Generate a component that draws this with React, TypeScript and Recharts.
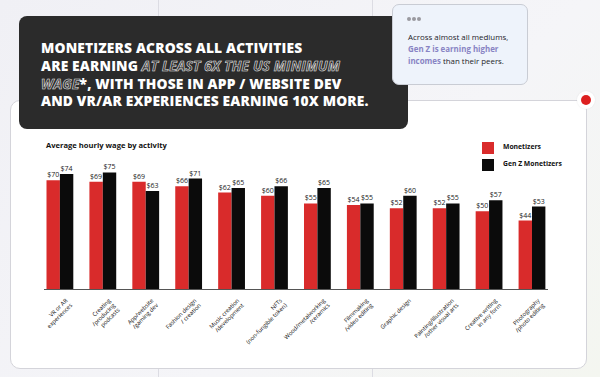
import { BarChart, Bar, XAxis, YAxis, LabelList } from 'recharts';

const CATEGORIES = [
  'VR or AR\nexperiences',
  'Creating\n/producing\npodcasts',
  'App/website\n/gaming dev',
  'Fashion design\n/ creation',
  'Music creation\n/development',
  'NFTs\n(non-fungible token)',
  'Wood/metalworking\n/ceramics',
  'Filmmaking\n/video editing',
  'Graphic design',
  'Painting/illustration\n/other visual arts',
  'Creative writing\nin any form',
  'Photography\n/photo editing',
];
const MONETIZERS = [70, 69, 69, 66, 62, 60, 55, 54, 52, 52, 50, 44];
const GEN_Z = [74, 75, 63, 71, 65, 66, 65, 55, 60, 55, 57, 53];

const RED = '#d92b2b';
const BLACK = '#0b0b0b';

const data = CATEGORIES.map((name, i) => ({
  name,
  monetizers: MONETIZERS[i],
  genz: GEN_Z[i],
}));

function Tick(props: { x?: number; y?: number; payload?: { value: string } }) {
  const { x = 0, y = 0, payload } = props;
  const lines = (payload?.value || '').split('\n');
  return (
    <g transform={`translate(${x + 8},${y + 4}) rotate(-45)`}>
      {lines.map((l, i) => (
        <text
          key={i}
          x={0}
          y={i * 6.6}
          textAnchor="end"
          fontSize={5.8}
          fill="#111"
          fontFamily="Open Sans, sans-serif"
        >
          {l}
        </text>
      ))}
    </g>
  );
}

const outline: React.CSSProperties = {
  color: 'transparent',
  WebkitTextStroke: '0.6px #e6e6e6',
  fontStyle: 'italic',
  fontWeight: 700,
};

export default function App() {
  return (
    <div
      style={{
        position: 'absolute',
        left: 0,
        top: 0,
        width: 600,
        height: 377,
        overflow: 'hidden',
        background: 'linear-gradient(135deg, #f0f0f5 0%, #f5f5f8 60%, #f4f6f0 100%)',
        fontFamily: 'Open Sans, sans-serif',
      }}
    >
      {/* faint page grid */}
      <div style={{ position: 'absolute', left: 158, top: 0, width: 1, height: 377, background: '#dcdce3' }} />
      <div style={{ position: 'absolute', left: 372, top: 0, width: 1, height: 377, background: '#dcdce3' }} />

      {/* card */}
      <div
        style={{
          position: 'absolute',
          left: 10,
          top: 100,
          width: 575,
          height: 267,
          background: '#fff',
          border: '1px solid #d4d4da',
          borderRadius: 10,
        }}
      />

      <div style={{ position: 'absolute', left: 46, top: 140, fontSize: 7.6, fontWeight: 700, color: '#111' }}>
        Average hourly wage by activity
      </div>

      {/* legend */}
      <div style={{ position: 'absolute', left: 482, top: 142, width: 12, height: 12, background: RED }} />
      <div style={{ position: 'absolute', left: 482, top: 159, width: 12, height: 12, background: BLACK }} />
      <div style={{ position: 'absolute', left: 503, top: 142, fontSize: 6.8, fontWeight: 700, color: '#111', lineHeight: '10px' }}>
        Monetizers
      </div>
      <div style={{ position: 'absolute', left: 503, top: 159, fontSize: 6.8, fontWeight: 700, color: '#111', lineHeight: '10px' }}>
        Gen Z Monetizers
      </div>

      <div style={{ position: 'absolute', left: 0, top: 0 }}>
        <BarChart
          width={600}
          height={377}
          data={data}
          margin={{ top: 164.6, right: 46.5, bottom: 0, left: 38.5 }}
          barGap={0}
          barSize={13.4}
        >
          <XAxis dataKey="name" interval={0} tickLine={false} axisLine={false} height={88} tick={<Tick />} />
          <YAxis hide domain={[0, 80]} />
          <Bar dataKey="monetizers" fill={RED} isAnimationActive={false}>
            <LabelList
              dataKey="monetizers"
              position="top"
              offset={3}
              formatter={(v: number) => `$${v}`}
              style={{ fontSize: 7, fill: '#222', fontFamily: 'Open Sans, sans-serif' }}
            />
          </Bar>
          <Bar dataKey="genz" fill={BLACK} isAnimationActive={false}>
            <LabelList
              dataKey="genz"
              position="top"
              offset={3}
              formatter={(v: number) => `$${v}`}
              style={{ fontSize: 7, fill: '#222', fontFamily: 'Open Sans, sans-serif' }}
            />
          </Bar>
        </BarChart>
      </div>

      {/* baseline */}
      <div style={{ position: 'absolute', left: 44, top: 289, width: 504, height: 1, background: '#555' }} />

      {/* headline box */}
      <div
        style={{
          position: 'absolute',
          left: 19,
          top: 16,
          width: 389,
          height: 113,
          background: '#2b2b2b',
          borderRadius: 8,
        }}
      />
      <div
        style={{
          position: 'absolute',
          left: 41,
          top: 39,
          width: 366,
          fontSize: 13.8,
          lineHeight: '17.8px',
          fontWeight: 800,
          color: '#fff',
          letterSpacing: 0.15,
        }}
      >
        MONETIZERS ACROSS ALL ACTIVITIES
        <br />
        ARE EARNING <span style={outline}>AT LEAST 6X THE US MINIMUM</span>
        <br />
        <span style={outline}>WAGE</span>*, WITH THOSE IN APP / WEBSITE DEV
        <br />
        AND VR/AR EXPERIENCES EARNING 10X MORE.
      </div>

      {/* callout */}
      <div
        style={{
          position: 'absolute',
          left: 392,
          top: 4,
          width: 134,
          height: 79,
          background: '#eef3fb',
          border: '1px solid #c9ccd4',
          borderRadius: 7,
        }}
      />
      {[0, 1, 2].map(i => (
        <div
          key={i}
          style={{
            position: 'absolute',
            left: 407 + i * 5,
            top: 17,
            width: 4,
            height: 4,
            borderRadius: 2,
            background: '#9a9aa0',
          }}
        />
      ))}
      <div
        style={{
          position: 'absolute',
          left: 408,
          top: 31,
          width: 115,
          fontSize: 7.9,
          lineHeight: '12px',
          color: '#1d1d2a',
        }}
      >
        Across almost all mediums,
        <br />
        <span style={{ color: '#8884c4', fontWeight: 700 }}>Gen Z is earning higher</span>
        <br />
        <span style={{ color: '#8884c4', fontWeight: 700 }}>incomes</span> than their peers.
      </div>

      {/* red dot */}
      <div
        style={{
          position: 'absolute',
          left: 577,
          top: 91,
          width: 18,
          height: 18,
          borderRadius: 9,
          background: '#fff',
          boxShadow: '0 0 2px rgba(0,0,0,0.08)',
        }}
      />
      <div
        style={{
          position: 'absolute',
          left: 581,
          top: 95,
          width: 10,
          height: 10,
          borderRadius: 5,
          background: '#dd2020',
        }}
      />
    </div>
  );
}
